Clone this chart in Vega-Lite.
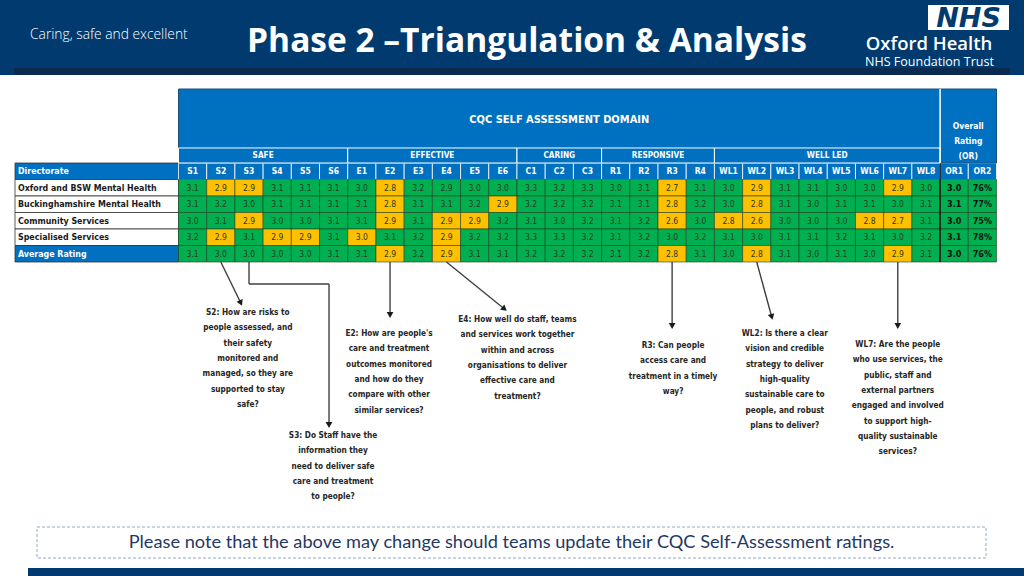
{
  "$schema": "https://vega.github.io/schema/vega-lite/v6.json",
  "width": 1024,
  "height": 576,
  "autosize": {"type": "fit", "contains": "padding"},
  "padding": 0,
  "background": "white",
  "config": {
    "view": {"stroke": null},
    "font": "Liberation Sans Narrow, DejaVu Sans Condensed, Liberation Sans, sans-serif"
  },
  "datasets": {
    "ratings": [
      {"directorate": "Oxford and BSW Mental Health", "S1": 3.1, "S2": 2.9, "S3": 2.9, "S4": 3.1, "S5": 3.1, "S6": 3.1, "E1": 3.0, "E2": 2.8, "E3": 3.2, "E4": 2.9, "E5": 3.0, "E6": 3.0, "C1": 3.3, "C2": 3.2, "C3": 3.3, "R1": 3.0, "R2": 3.1, "R3": 2.7, "R4": 3.1, "WL1": 3.0, "WL2": 2.9, "WL3": 3.1, "WL4": 3.1, "WL5": 3.0, "WL6": 3.0, "WL7": 2.9, "WL8": 3.0, "OR1": 3.0, "OR2": 76, "amber": ["S2", "S3", "E2", "R3", "WL2", "WL7"]},
      {"directorate": "Buckinghamshire Mental Health", "S1": 3.1, "S2": 3.2, "S3": 3.0, "S4": 3.1, "S5": 3.1, "S6": 3.1, "E1": 3.1, "E2": 2.8, "E3": 3.1, "E4": 3.1, "E5": 3.2, "E6": 2.9, "C1": 3.2, "C2": 3.2, "C3": 3.2, "R1": 3.1, "R2": 3.1, "R3": 2.8, "R4": 3.2, "WL1": 3.0, "WL2": 2.8, "WL3": 3.1, "WL4": 3.0, "WL5": 3.1, "WL6": 3.1, "WL7": 3.0, "WL8": 3.1, "OR1": 3.1, "OR2": 77, "amber": ["E2", "E6", "R3", "WL2"]},
      {"directorate": "Community Services", "S1": 3.0, "S2": 3.1, "S3": 2.9, "S4": 3.0, "S5": 3.0, "S6": 3.1, "E1": 3.1, "E2": 2.9, "E3": 3.1, "E4": 2.9, "E5": 2.9, "E6": 3.2, "C1": 3.1, "C2": 3.0, "C3": 3.2, "R1": 3.1, "R2": 3.2, "R3": 2.6, "R4": 3.0, "WL1": 2.8, "WL2": 2.6, "WL3": 3.0, "WL4": 3.0, "WL5": 3.0, "WL6": 2.8, "WL7": 2.7, "WL8": 3.1, "OR1": 3.0, "OR2": 75, "amber": ["S3", "E2", "E4", "E5", "R3", "WL1", "WL2", "WL6", "WL7"]},
      {"directorate": "Specialised Services", "S1": 3.2, "S2": 2.9, "S3": 3.1, "S4": 2.9, "S5": 2.9, "S6": 3.1, "E1": 3.0, "E2": 3.1, "E3": 3.2, "E4": 2.9, "E5": 3.2, "E6": 3.2, "C1": 3.3, "C2": 3.3, "C3": 3.2, "R1": 3.1, "R2": 3.2, "R3": 3.0, "R4": 3.2, "WL1": 3.1, "WL2": 3.0, "WL3": 3.1, "WL4": 3.1, "WL5": 3.2, "WL6": 3.1, "WL7": 3.0, "WL8": 3.2, "OR1": 3.1, "OR2": 78, "amber": ["S2", "S4", "S5", "E1", "E4"]},
      {"directorate": "Average Rating", "S1": 3.1, "S2": 3.0, "S3": 3.0, "S4": 3.0, "S5": 3.0, "S6": 3.1, "E1": 3.1, "E2": 2.9, "E3": 3.2, "E4": 2.9, "E5": 3.1, "E6": 3.1, "C1": 3.2, "C2": 3.2, "C3": 3.2, "R1": 3.1, "R2": 3.2, "R3": 2.8, "R4": 3.1, "WL1": 3.0, "WL2": 2.8, "WL3": 3.1, "WL4": 3.0, "WL5": 3.1, "WL6": 3.0, "WL7": 2.9, "WL8": 3.1, "OR1": 3.0, "OR2": 76, "amber": ["E2", "E4", "R3", "WL2", "WL7"]}
    ],
    "columns": [
      {"col": "S1"}, {"col": "S2"}, {"col": "S3"}, {"col": "S4"}, {"col": "S5"}, {"col": "S6"},
      {"col": "E1"}, {"col": "E2"}, {"col": "E3"}, {"col": "E4"}, {"col": "E5"}, {"col": "E6"},
      {"col": "C1"}, {"col": "C2"}, {"col": "C3"},
      {"col": "R1"}, {"col": "R2"}, {"col": "R3"}, {"col": "R4"},
      {"col": "WL1"}, {"col": "WL2"}, {"col": "WL3"}, {"col": "WL4"}, {"col": "WL5"}, {"col": "WL6"}, {"col": "WL7"}, {"col": "WL8"},
      {"col": "OR1"}, {"col": "OR2"}
    ],
    "groups": [
      {"group": "SAFE", "first": "S1", "last": "S6", "mid": "S4"},
      {"group": "EFFECTIVE", "first": "E1", "last": "E6", "mid": "E4"},
      {"group": "CARING", "first": "C1", "last": "C3", "mid": "C2"},
      {"group": "RESPONSIVE", "first": "R1", "last": "R4", "mid": "R3"},
      {"group": "WELL LED", "first": "WL1", "last": "WL8", "mid": "WL5"}
    ],
    "rowsList": [
      {"directorate": "Directorate"},
      {"directorate": "Oxford and BSW Mental Health"},
      {"directorate": "Buckinghamshire Mental Health"},
      {"directorate": "Community Services"},
      {"directorate": "Specialised Services"},
      {"directorate": "Average Rating"}
    ],
    "notes": [
      {"col": "S2", "lines": ["S2: How are risks to", "people assessed, and", "their safety", "monitored and", "managed, so they are", "supported to stay", "safe?"]},
      {"col": "S3", "lines": ["S3: Do Staff have the", "information they", "need to deliver safe", "care and treatment", "to people?"]},
      {"col": "E2", "lines": ["E2: How are people's", "care and treatment", "outcomes monitored", "and how do they", "compare with other", "similar services?"]},
      {"col": "E4", "lines": ["E4: How well do staff, teams", "and services work together", "within and across", "organisations to deliver", "effective care and", "treatment?"]},
      {"col": "R3", "lines": ["R3: Can people", "access care and", "treatment in a timely", "way?"]},
      {"col": "WL2", "lines": ["WL2: Is there a clear", "vision and credible", "strategy to deliver", "high-quality", "sustainable care to", "people, and robust", "plans to deliver?"]},
      {"col": "WL7", "lines": ["WL7: Are the people", "who use services, the", "public, staff and", "external partners", "engaged and involved", "to support high-", "quality sustainable", "services?"]}
    ]
  },
  "resolve": {"scale": {"x": "independent", "y": "independent"}},
  "layer": [
    {
      "data": {"values": [{"part": "banner"}]},
      "encoding": {
        "x": {"field": "part", "type": "nominal", "axis": null, "scale": {"type": "band", "domain": ["banner"], "range": [0, 1024], "paddingInner": 0, "paddingOuter": 0}},
        "y": {"field": "part", "type": "nominal", "axis": null, "scale": {"type": "band", "domain": ["banner"], "range": [0, 75], "paddingInner": 0, "paddingOuter": 0}}
      },
      "layer": [
        {"mark": {"type": "rect", "fill": "#003a6e"}},
        {"mark": {"type": "text", "text": "Phase 2 \u2013Triangulation & Analysis", "font": "Open Sans", "fontWeight": "bold", "fontSize": 33.5, "color": "white", "align": "center", "baseline": "alphabetic"},
         "encoding": {"x": {"field": "part", "type": "nominal", "bandPosition": 0.5146}, "y": {"field": "part", "type": "nominal", "bandPosition": 0.693}}},
        {"mark": {"type": "text", "text": "Caring, safe and excellent", "font": "Open Sans", "fontWeight": 300, "fontSize": 13.8, "color": "white", "align": "left", "baseline": "alphabetic"},
         "encoding": {"x": {"field": "part", "type": "nominal", "bandPosition": 0.0293}, "y": {"field": "part", "type": "nominal", "bandPosition": 0.52}}},
        {"mark": {"type": "text", "text": "Oxford Health", "font": "Open Sans", "fontWeight": 600, "fontSize": 18.5, "color": "white", "align": "center", "baseline": "alphabetic"},
         "encoding": {"x": {"field": "part", "type": "nominal", "bandPosition": 0.9072}, "y": {"field": "part", "type": "nominal", "bandPosition": 0.665}}},
        {"mark": {"type": "text", "text": "NHS Foundation Trust", "font": "Open Sans", "fontSize": 12.5, "color": "white", "align": "center", "baseline": "alphabetic"},
         "encoding": {"x": {"field": "part", "type": "nominal", "bandPosition": 0.9077}, "y": {"field": "part", "type": "nominal", "bandPosition": 0.885}}}
      ]
    },
    {
      "data": {"values": [{"part": "strip"}]},
      "mark": {"type": "rect", "fill": "#0b2a50"},
      "encoding": {
        "x": {"field": "part", "type": "nominal", "axis": null, "scale": {"type": "band", "domain": ["strip"], "range": [14, 1010], "paddingInner": 0, "paddingOuter": 0}},
        "y": {"field": "part", "type": "nominal", "axis": null, "scale": {"type": "band", "domain": ["strip"], "range": [68, 75], "paddingInner": 0, "paddingOuter": 0}}
      }
    },
    {
      "data": {"values": [{"part": "NHS"}]},
      "encoding": {
        "x": {"field": "part", "type": "nominal", "axis": null, "scale": {"type": "band", "domain": ["NHS"], "range": [928, 1009], "paddingInner": 0, "paddingOuter": 0}},
        "y": {"field": "part", "type": "nominal", "axis": null, "scale": {"type": "band", "domain": ["NHS"], "range": [5, 30], "paddingInner": 0, "paddingOuter": 0}}
      },
      "layer": [
        {"mark": {"type": "rect", "fill": "white"}},
        {"mark": {"type": "text", "text": "NHS", "font": "DejaVu Sans", "fontWeight": "bold", "fontStyle": "italic", "fontSize": 27, "color": "#003a6e", "align": "center", "baseline": "middle", "dy": 1}}
      ]
    },
    {
      "data": {"name": "rowsList"},
      "transform": [{"calculate": "'label'", "as": "lab"}],
      "encoding": {
        "x": {"field": "lab", "type": "nominal", "axis": null, "scale": {"type": "band", "domain": ["label"], "range": [15, 178.5], "paddingInner": 0, "paddingOuter": 0}},
        "y": {"field": "directorate", "type": "nominal", "axis": null, "scale": {"type": "band", "domain": ["Directorate", "Oxford and BSW Mental Health", "Buckinghamshire Mental Health", "Community Services", "Specialised Services", "Average Rating"], "range": [163, 262], "paddingInner": 0, "paddingOuter": 0}}
      },
      "layer": [
        {"mark": {"type": "rect", "stroke": "#333333", "strokeWidth": 0.8},
         "encoding": {"fill": {"condition": {"test": "datum.directorate === 'Directorate' || datum.directorate === 'Average Rating'", "value": "#0070c0"}, "value": "white"}}},
        {"mark": {"type": "text", "align": "left", "dx": 3, "fontWeight": "bold", "fontSize": 8.8, "baseline": "middle"},
         "encoding": {
           "x": {"field": "lab", "type": "nominal", "bandPosition": 0},
           "text": {"field": "directorate"},
           "color": {"condition": {"test": "datum.directorate === 'Directorate' || datum.directorate === 'Average Rating'", "value": "white"}, "value": "#1a1a1a"}
         }}
      ]
    },
    {
      "encoding": {
        "x": {"field": "col", "type": "nominal", "axis": null, "scale": {"type": "band", "domain": ["S1", "S2", "S3", "S4", "S5", "S6", "E1", "E2", "E3", "E4", "E5", "E6", "C1", "C2", "C3", "R1", "R2", "R3", "R4", "WL1", "WL2", "WL3", "WL4", "WL5", "WL6", "WL7", "WL8", "OR1", "OR2"], "range": [178.5, 996.5], "paddingInner": 0, "paddingOuter": 0}},
        "y": {"field": "directorate", "type": "nominal", "axis": null, "scale": {"type": "band", "domain": ["Directorate", "Oxford and BSW Mental Health", "Buckinghamshire Mental Health", "Community Services", "Specialised Services", "Average Rating"], "range": [163, 262], "paddingInner": 0, "paddingOuter": 0}}
      },
      "layer": [
        {
          "data": {"name": "columns"},
          "transform": [{"calculate": "'Directorate'", "as": "directorate"}],
          "layer": [
            {"mark": {"type": "rect", "fill": "#0070c0", "stroke": "white", "strokeWidth": 0.8}},
            {"mark": {"type": "text", "color": "white", "fontWeight": "bold", "fontSize": 8.5, "baseline": "middle"}, "encoding": {"text": {"field": "col"}}}
          ]
        },
        {
          "data": {"name": "ratings"},
          "transform": [
            {"fold": ["S1", "S2", "S3", "S4", "S5", "S6", "E1", "E2", "E3", "E4", "E5", "E6", "C1", "C2", "C3", "R1", "R2", "R3", "R4", "WL1", "WL2", "WL3", "WL4", "WL5", "WL6", "WL7", "WL8", "OR1", "OR2"], "as": ["col", "value"]},
            {"calculate": "indexof(datum.amber, datum.col) >= 0 ? 'Amber' : 'Green'", "as": "status"},
            {"calculate": "datum.col === 'OR2' ? datum.value + '%' : format(datum.value, '.1f')", "as": "label"}
          ],
          "layer": [
            {"mark": {"type": "rect", "stroke": "#1f3f1f", "strokeWidth": 0.6},
             "encoding": {"fill": {"field": "status", "type": "nominal", "scale": {"domain": ["Green", "Amber"], "range": ["#00b050", "#ffc000"]}, "legend": null}}},
            {"transform": [{"filter": "datum.col !== 'OR1' && datum.col !== 'OR2'"}],
             "mark": {"type": "text", "fontSize": 8.5, "color": "#2a3a20", "baseline": "middle"},
             "encoding": {"text": {"field": "label"}}},
            {"transform": [{"filter": "datum.col === 'OR1' || datum.col === 'OR2'"}],
             "mark": {"type": "text", "fontSize": 9, "fontWeight": "bold", "color": "#111111", "baseline": "middle"},
             "encoding": {"text": {"field": "label"}}}
          ]
        },
        {
          "data": {"values": [{"col": "OR1"}]},
          "transform": [{"calculate": "'Directorate'", "as": "top"}, {"calculate": "'Average Rating'", "as": "bottom"}],
          "mark": {"type": "rule", "color": "#1a1a1a", "strokeWidth": 1.5},
          "encoding": {
            "x": {"field": "col", "type": "nominal", "bandPosition": 0},
            "y": {"field": "top", "type": "nominal", "bandPosition": 0},
            "y2": {"field": "bottom", "bandPosition": 1}
          }
        },
        {
          "data": {"name": "notes"},
          "transform": [{"filter": "datum.col === 'S2'"}, {"calculate": "'Average Rating'", "as": "directorate"}],
          "encoding": {"x": {"field": "col", "type": "nominal", "bandPosition": 0.5}, "y": {"field": "directorate", "type": "nominal", "bandPosition": 1}},
          "layer": [
            {"mark": {"type": "rule", "color": "#404040", "strokeWidth": 1.4, "x2Offset": 20, "y2Offset": 41}, "encoding": {"x2": {"field": "col", "bandPosition": 0.5}, "y2": {"field": "directorate", "bandPosition": 1}}},
            {"mark": {"type": "point", "shape": "triangle-down", "filled": true, "size": 45, "color": "#1a1a1a", "opacity": 1, "xOffset": 20, "yOffset": 41, "angle": -25}},
            {"mark": {"type": "text", "baseline": "top", "align": "center", "fontWeight": "bold", "fontSize": 8.2, "lineHeight": 15.3, "color": "#262626", "xOffset": 27, "yOffset": 47}, "encoding": {"text": {"field": "lines"}}}
          ]
        },
        {
          "data": {"name": "notes"},
          "transform": [{"filter": "datum.col === 'S3'"}, {"calculate": "'Average Rating'", "as": "directorate"}],
          "encoding": {"x": {"field": "col", "type": "nominal", "bandPosition": 0.5}, "y": {"field": "directorate", "type": "nominal", "bandPosition": 1}},
          "layer": [
            {"mark": {"type": "rule", "color": "#404040", "strokeWidth": 1.4, "y2Offset": 22}, "encoding": {"x2": {"field": "col", "bandPosition": 0.5}, "y2": {"field": "directorate", "bandPosition": 1}}},
            {"mark": {"type": "rule", "color": "#404040", "strokeWidth": 1.4, "yOffset": 22, "x2Offset": 80, "y2Offset": 22}, "encoding": {"x2": {"field": "col", "bandPosition": 0.5}, "y2": {"field": "directorate", "bandPosition": 1}}},
            {"mark": {"type": "rule", "color": "#404040", "strokeWidth": 1.4, "xOffset": 80, "yOffset": 22, "x2Offset": 80, "y2Offset": 163}, "encoding": {"x2": {"field": "col", "bandPosition": 0.5}, "y2": {"field": "directorate", "bandPosition": 1}}},
            {"mark": {"type": "point", "shape": "triangle-down", "filled": true, "size": 45, "color": "#1a1a1a", "opacity": 1, "xOffset": 80, "yOffset": 163}},
            {"mark": {"type": "text", "baseline": "top", "align": "center", "fontWeight": "bold", "fontSize": 8.2, "lineHeight": 15.3, "color": "#262626", "xOffset": 84, "yOffset": 170}, "encoding": {"text": {"field": "lines"}}}
          ]
        },
        {
          "data": {"name": "notes"},
          "transform": [{"filter": "datum.col === 'E2'"}, {"calculate": "'Average Rating'", "as": "directorate"}],
          "encoding": {"x": {"field": "col", "type": "nominal", "bandPosition": 0.5}, "y": {"field": "directorate", "type": "nominal", "bandPosition": 1}},
          "layer": [
            {"mark": {"type": "rule", "color": "#404040", "strokeWidth": 1.4, "y2Offset": 53}, "encoding": {"x2": {"field": "col", "bandPosition": 0.5}, "y2": {"field": "directorate", "bandPosition": 1}}},
            {"mark": {"type": "point", "shape": "triangle-down", "filled": true, "size": 45, "color": "#1a1a1a", "opacity": 1, "yOffset": 53}},
            {"mark": {"type": "text", "baseline": "top", "align": "center", "fontWeight": "bold", "fontSize": 8.2, "lineHeight": 15.3, "color": "#262626", "xOffset": -1, "yOffset": 68}, "encoding": {"text": {"field": "lines"}}}
          ]
        },
        {
          "data": {"name": "notes"},
          "transform": [{"filter": "datum.col === 'E4'"}, {"calculate": "'Average Rating'", "as": "directorate"}],
          "encoding": {"x": {"field": "col", "type": "nominal", "bandPosition": 0.5}, "y": {"field": "directorate", "type": "nominal", "bandPosition": 1}},
          "layer": [
            {"mark": {"type": "rule", "color": "#404040", "strokeWidth": 1.4, "x2Offset": 58, "y2Offset": 47}, "encoding": {"x2": {"field": "col", "bandPosition": 0.5}, "y2": {"field": "directorate", "bandPosition": 1}}},
            {"mark": {"type": "point", "shape": "triangle-down", "filled": true, "size": 45, "color": "#1a1a1a", "opacity": 1, "xOffset": 58, "yOffset": 47, "angle": -51}},
            {"mark": {"type": "text", "baseline": "top", "align": "center", "fontWeight": "bold", "fontSize": 8.2, "lineHeight": 15.3, "color": "#262626", "xOffset": 71, "yOffset": 54}, "encoding": {"text": {"field": "lines"}}}
          ]
        },
        {
          "data": {"name": "notes"},
          "transform": [{"filter": "datum.col === 'R3'"}, {"calculate": "'Average Rating'", "as": "directorate"}],
          "encoding": {"x": {"field": "col", "type": "nominal", "bandPosition": 0.5}, "y": {"field": "directorate", "type": "nominal", "bandPosition": 1}},
          "layer": [
            {"mark": {"type": "rule", "color": "#404040", "strokeWidth": 1.4, "y2Offset": 64}, "encoding": {"x2": {"field": "col", "bandPosition": 0.5}, "y2": {"field": "directorate", "bandPosition": 1}}},
            {"mark": {"type": "point", "shape": "triangle-down", "filled": true, "size": 45, "color": "#1a1a1a", "opacity": 1, "yOffset": 64}},
            {"mark": {"type": "text", "baseline": "top", "align": "center", "fontWeight": "bold", "fontSize": 8.2, "lineHeight": 15.3, "color": "#262626", "xOffset": 1, "yOffset": 80}, "encoding": {"text": {"field": "lines"}}}
          ]
        },
        {
          "data": {"name": "notes"},
          "transform": [{"filter": "datum.col === 'WL2'"}, {"calculate": "'Average Rating'", "as": "directorate"}],
          "encoding": {"x": {"field": "col", "type": "nominal", "bandPosition": 0.5}, "y": {"field": "directorate", "type": "nominal", "bandPosition": 1}},
          "layer": [
            {"mark": {"type": "rule", "color": "#404040", "strokeWidth": 1.4, "x2Offset": 15, "y2Offset": 55}, "encoding": {"x2": {"field": "col", "bandPosition": 0.5}, "y2": {"field": "directorate", "bandPosition": 1}}},
            {"mark": {"type": "point", "shape": "triangle-down", "filled": true, "size": 45, "color": "#1a1a1a", "opacity": 1, "xOffset": 15, "yOffset": 55, "angle": -15}},
            {"mark": {"type": "text", "baseline": "top", "align": "center", "fontWeight": "bold", "fontSize": 8.2, "lineHeight": 15.3, "color": "#262626", "xOffset": 28, "yOffset": 68}, "encoding": {"text": {"field": "lines"}}}
          ]
        },
        {
          "data": {"name": "notes"},
          "transform": [{"filter": "datum.col === 'WL7'"}, {"calculate": "'Average Rating'", "as": "directorate"}],
          "encoding": {"x": {"field": "col", "type": "nominal", "bandPosition": 0.5}, "y": {"field": "directorate", "type": "nominal", "bandPosition": 1}},
          "layer": [
            {"mark": {"type": "rule", "color": "#404040", "strokeWidth": 1.4, "y2Offset": 64}, "encoding": {"x2": {"field": "col", "bandPosition": 0.5}, "y2": {"field": "directorate", "bandPosition": 1}}},
            {"mark": {"type": "point", "shape": "triangle-down", "filled": true, "size": 45, "color": "#1a1a1a", "opacity": 1, "yOffset": 64}},
            {"mark": {"type": "text", "baseline": "top", "align": "center", "fontWeight": "bold", "fontSize": 8.2, "lineHeight": 15.3, "color": "#262626", "xOffset": 0, "yOffset": 79}, "encoding": {"text": {"field": "lines"}}}
          ]
        }
      ]
    },
    {
      "encoding": {
        "x": {"field": "first", "type": "nominal", "axis": null, "scale": {"type": "band", "domain": ["S1", "S2", "S3", "S4", "S5", "S6", "E1", "E2", "E3", "E4", "E5", "E6", "C1", "C2", "C3", "R1", "R2", "R3", "R4", "WL1", "WL2", "WL3", "WL4", "WL5", "WL6", "WL7", "WL8", "OR1", "OR2"], "range": [178.5, 996.5], "paddingInner": 0, "paddingOuter": 0}},
        "y": {"field": "lvl", "type": "nominal", "axis": null, "scale": {"type": "band", "domain": ["hdr"], "range": [89, 163], "paddingInner": 0, "paddingOuter": 0}}
      },
      "layer": [
        {
          "data": {"values": [{"first": "S1", "last": "OR2", "lvl": "hdr"}]},
          "mark": {"type": "rect", "fill": "#0070c0", "stroke": "#1f4e79", "strokeWidth": 1},
          "encoding": {
            "x": {"field": "first", "type": "nominal", "bandPosition": 0},
            "x2": {"field": "last", "bandPosition": 1},
            "y": {"field": "lvl", "type": "nominal", "bandPosition": 0},
            "y2": {"field": "lvl", "bandPosition": 1}
          }
        },
        {
          "data": {"name": "groups"},
          "transform": [{"calculate": "'hdr'", "as": "lvl"}],
          "mark": {"type": "rect", "fill": "#0070c0", "stroke": "white", "strokeWidth": 1},
          "encoding": {
            "x": {"field": "first", "type": "nominal", "bandPosition": 0},
            "x2": {"field": "last", "bandPosition": 1},
            "y": {"field": "lvl", "type": "nominal", "bandPosition": 0.797},
            "y2": {"field": "lvl", "bandPosition": 1}
          }
        },
        {
          "data": {"name": "groups"},
          "transform": [{"calculate": "'hdr'", "as": "lvl"}, {"filter": "datum.group !== 'CARING'"}],
          "mark": {"type": "text", "color": "white", "fontWeight": "bold", "fontSize": 8.2, "baseline": "middle"},
          "encoding": {
            "x": {"field": "mid", "type": "nominal", "bandPosition": 0},
            "y": {"field": "lvl", "type": "nominal", "bandPosition": 0.9},
            "text": {"field": "group"}
          }
        },
        {
          "data": {"name": "groups"},
          "transform": [{"calculate": "'hdr'", "as": "lvl"}, {"filter": "datum.group === 'CARING'"}],
          "mark": {"type": "text", "color": "white", "fontWeight": "bold", "fontSize": 8.2, "baseline": "middle"},
          "encoding": {
            "x": {"field": "mid", "type": "nominal", "bandPosition": 0.5},
            "y": {"field": "lvl", "type": "nominal", "bandPosition": 0.9},
            "text": {"field": "group"}
          }
        },
        {
          "data": {"values": [{"first": "OR1", "lvl": "hdr"}]},
          "mark": {"type": "rule", "color": "white", "strokeWidth": 1.5},
          "encoding": {
            "x": {"field": "first", "type": "nominal", "bandPosition": 0},
            "y": {"field": "lvl", "type": "nominal", "bandPosition": 0},
            "y2": {"field": "lvl", "bandPosition": 1}
          }
        },
        {
          "data": {"values": [{"first": "C2", "lvl": "hdr"}]},
          "mark": {"type": "text", "text": "CQC SELF ASSESSMENT DOMAIN", "color": "white", "fontWeight": "bold", "fontSize": 11, "baseline": "middle"},
          "encoding": {
            "x": {"field": "first", "type": "nominal", "bandPosition": 0.5},
            "y": {"field": "lvl", "type": "nominal", "bandPosition": 0.42}
          }
        },
        {
          "data": {"values": [{"first": "OR2", "lvl": "hdr"}]},
          "mark": {"type": "text", "text": ["Overall", "Rating", "(OR)"], "color": "white", "fontWeight": "bold", "fontSize": 8.5, "lineHeight": 15, "baseline": "top"},
          "encoding": {
            "x": {"field": "first", "type": "nominal", "bandPosition": 0},
            "y": {"field": "lvl", "type": "nominal", "bandPosition": 0.446}
          }
        }
      ]
    },
    {
      "data": {"values": [{"part": "note"}]},
      "encoding": {
        "x": {"field": "part", "type": "nominal", "axis": null, "scale": {"type": "band", "domain": ["note"], "range": [37, 986], "paddingInner": 0, "paddingOuter": 0}},
        "y": {"field": "part", "type": "nominal", "axis": null, "scale": {"type": "band", "domain": ["note"], "range": [527, 558], "paddingInner": 0, "paddingOuter": 0}}
      },
      "layer": [
        {"mark": {"type": "rect", "fill": "white", "stroke": "#8eaacb", "strokeWidth": 1, "strokeDash": [3, 2]}},
        {"mark": {"type": "text", "text": "Please note that the above may change should teams update their CQC Self-Assessment ratings.", "font": "Lato", "fontSize": 18.2, "color": "#1f3864", "align": "center", "baseline": "middle"}}
      ]
    },
    {
      "data": {"values": [{"part": "foot"}]},
      "mark": {"type": "rect", "fill": "#003a6e"},
      "encoding": {
        "x": {"field": "part", "type": "nominal", "axis": null, "scale": {"type": "band", "domain": ["foot"], "range": [28, 1024], "paddingInner": 0, "paddingOuter": 0}},
        "y": {"field": "part", "type": "nominal", "axis": null, "scale": {"type": "band", "domain": ["foot"], "range": [568, 576], "paddingInner": 0, "paddingOuter": 0}}
      }
    }
  ]
}
